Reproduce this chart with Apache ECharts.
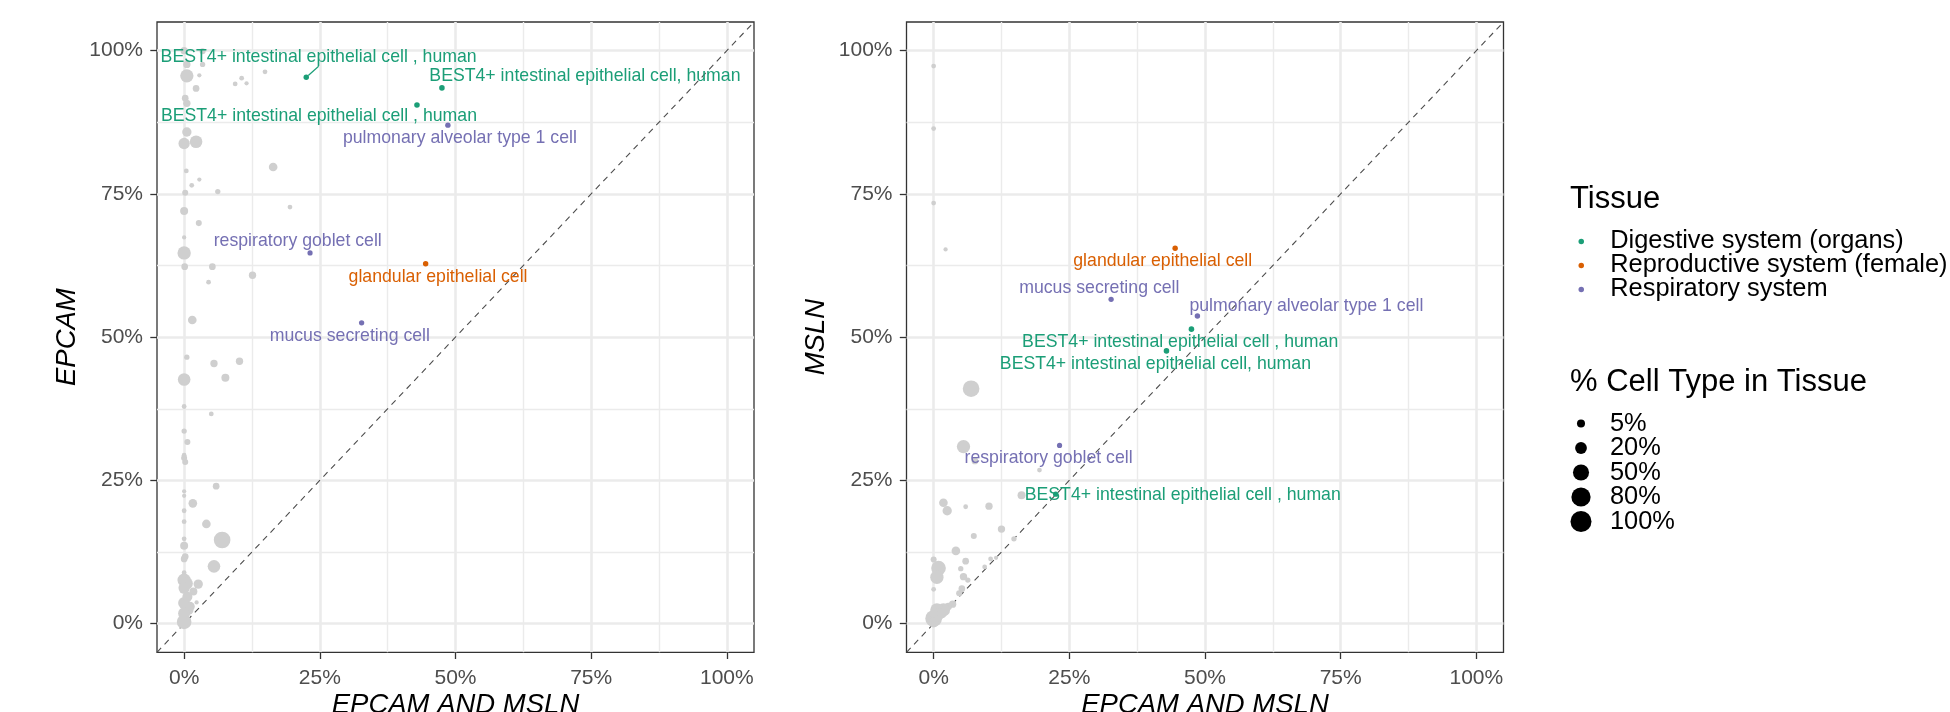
<!DOCTYPE html>
<html>
<head>
<meta charset="utf-8">
<script src="https://cdn.jsdelivr.net/npm/echarts@6/dist/echarts.min.js"></script>
<style>html,body{margin:0;padding:0;background:#fff}#chart{width:1950px;height:712px}</style>
</head>
<body>
<div id="chart"></div>
<script>
// ---------------- DATA ----------------
const tissueNames = ["Digestive system (organs)", "Reproductive system (female)", "Respiratory system"];

// highlighted (coloured) cell types
const cellNames = [
  "BEST4+ intestinal epithelial cell , human",
  "BEST4+ intestinal epithelial cell, human",
  "BEST4+ intestinal epithelial cell , human",
  "pulmonary alveolar type 1 cell",
  "respiratory goblet cell",
  "glandular epithelial cell",
  "mucus secreting cell"
];
const cellTissue = [0, 0, 0, 2, 2, 1, 2];
const cellEpcamAndMsln = [22.5, 47.5, 42.9, 48.6, 23.2, 44.5, 32.7];
const cellEpcam = [95.35, 93.5, 90.5, 87.0, 64.7, 62.8, 52.5];
const cellMsln = [22.6, 51.4, 47.6, 53.7, 31.1, 65.5, 56.6];
const cellTypePct = [0.5, 0.6, 0.6, 0.5, 0.3, 0.5, 0.4];

// other cell types (grey) – EPCAM panel
const epcamGrayX = [0, 3.4, 0.5, 3.4, 0.5, 2.8, 2.2, 0.2, 0.5, 14.9, 10.6, 9.4, 11.5, 0.5, 0, 2.2, 16.4, 0.4, 2.8, 1.4,
  0.2, 6.2, 19.5, 0, 2.7, 0, 0, 0.1, 5.2, 4.5, 12.6, 1.5, 0.5, 5.5, 10.2, 7.6, 0, 0, 5.0, 0,
  0.6, 0, 0, 0.2, 5.9, 0, 0, 1.6, 0, 4.1, 0, 7.0, 0, 0, 0.2, 0, 5.5, 0, 0, 0.5,
  2.6, 1.7, 0, 2.3, 0, 0.8, 0, 0, 0.6, 1.1];
const epcamGrayY = [100.0, 99.9, 97.6, 97.6, 95.6, 95.7, 93.4, 91.7, 90.8, 96.3, 95.2, 94.2, 94.3, 85.8, 83.8, 84.1, 79.7, 79.0, 77.5, 76.5,
  75.2, 75.4, 72.7, 72.0, 69.9, 67.4, 64.7, 62.3, 62.3, 59.6, 60.8, 53.0, 46.5, 45.4, 45.8, 42.9, 42.6, 37.9, 36.6, 33.6,
  31.7, 29.4, 28.9, 28.2, 24.0, 23.1, 22.3, 21.0, 19.7, 17.4, 17.8, 14.6, 14.8, 13.6, 11.7, 11.3, 10.0, 8.9, 7.6, 7.0,
  6.9, 5.6, 6.2, 3.7, 3.6, 2.4, 1.8, 0.3, 4.7, 3.0];
const epcamGraySize = [3.4, 1.1, 3.4, 0.4, 29.4, 0, 2.1, 2.1, 3.4, 0.1, 0.1, 0.1, 0, 9.2, 17.8, 25, 6.9, 0.1, 0, 0.1,
  1.1, 0.4, 0.1, 5, 1.1, 0, 29.4, 2.1, 2.1, 0.1, 3.4, 6.9, 0.4, 3.4, 3.4, 5, 25, 0.1, 0.1, 0.4,
  1.1, 0.1, 1.1, 1.1, 2.1, 0, 0, 6.9, 0.1, 6.9, 0.1, 55, 0.1, 5, 2.1, 2.1, 25, 0.1, 29.4, 21.4,
  9.2, 5, 17.8, 0, 21.4, 11.8, 21.4, 38.7, 11.8, 9.2];

// other cell types (grey) – MSLN panel
const mslnGrayX = [6.9, 5.5, 7.6, 19.5, 16.2, 1.8, 2.5, 5.9, 10.2, 12.5, 7.4, 14.8, 4.1, 5.9, 0, 0.9, 0.6, 5.0, 5.5, 6.3,
  0, 5.2, 4.7, 9.4, 10.5, 11.5, 3.5, 2.7, 1.8, 0.6, 0, 0.6, 0, 1.5, 0, 0, 0, 2.2];
const mslnGrayY = [41.0, 30.9, 28.4, 26.8, 22.4, 21.1, 19.7, 20.4, 20.5, 16.5, 15.3, 14.8, 12.7, 10.9, 11.2, 9.7, 8.1, 9.6, 8.2, 7.6,
  6.0, 6.1, 5.3, 9.9, 11.3, 11.5, 3.4, 3.0, 2.4, 2.4, 0.9, 1.5, 0.2, 1.8, 97.3, 86.4, 73.4, 65.3];
const mslnGraySize = [55, 29.4, 2.1, 0.1, 5, 6.9, 9.2, 0.1, 3.4, 3.4, 1.1, 0.4, 6.9, 2.1, 1.1, 38.7, 29.4, 0.4, 3.4, 0.4,
  0.1, 2.1, 1.1, 0.1, 0.1, 0, 3.4, 3.4, 29.4, 29.4, 55, 29.4, 11.8, 11.8, 0.1, 0.1, 0.1, 0];

const axisTicks = [0, 25, 50, 75, 100];
const axisMinorTicks = [12.5, 37.5, 62.5, 87.5];
const axisLimits = [-5, 105];
const sizeBreaks = [5, 20, 50, 80, 100];
const panelYTitles = ["EPCAM", "MSLN"];
const xTitle = "EPCAM AND MSLN";

// ---------------- STYLE / LAYOUT ----------------
const FONT = "'Liberation Sans', Arial, Helvetica, sans-serif";
const tissueColors = ["#1B9E77", "#D95F02", "#7570B3"];
const grayColor = "#CFCFCF";
const symbolDiameter = p => 4.26 + 16.75 * Math.sqrt(p / 100);
// label offsets (px) relative to point, per panel, per cell
const labelOffsets = [
  [[12.4, -20], [143, -12], [-98, 11], [12, 13.3], [-12.3, -11.4], [12.4, 13.3], [-11.8, 13]],
  [[127, 1], [-36, 35.3], [13.7, -8.7], [109, -10.3], [-11, 13], [-12.4, 12.7], [-11.8, -11]]
];
const leaderLines = [[true, false, false, false, false, false, false], [false, false, false, false, false, false, false]];
const gridPos = [{left: 157, top: 22, width: 597, height: 630.3}, {left: 906.5, top: 22, width: 597, height: 630.3}];

const chart = echarts.init(document.getElementById('chart'), null, {renderer: 'canvas'});

const grids = gridPos.map(g => Object.assign({
  show: true, borderColor: '#333333', borderWidth: 1.3, backgroundColor: 'rgba(0,0,0,0)',
  containLabel: false, outerBoundsMode: 'none'
}, g));

function mainAxis(gi, isX) {
  return {
    type: 'value', gridIndex: gi, min: axisLimits[0], max: axisLimits[1],
    position: isX ? 'bottom' : 'left',
    name: isX ? xTitle : panelYTitles[gi], nameLocation: 'middle',
    nameGap: isX ? 40 : 76.5, nameMoveOverlap: false,
    nameTextStyle: {fontFamily: FONT, fontStyle: 'italic', fontSize: 27.5, color: '#000'},
    axisLine: {show: false, onZero: false},
    axisTick: {show: true, inside: false, length: 6.7, customValues: axisTicks, lineStyle: {color: '#333333', width: 1.3}},
    axisLabel: {show: true, customValues: axisTicks, margin: isX ? 15 : 14, formatter: v => v + '%',
      fontFamily: FONT, fontSize: 21, color: '#4D4D4D'},
    splitLine: {show: true, lineStyle: {color: '#EBEBEB', width: 2.6}},
    minorTick: {show: false}, minorSplitLine: {show: false}
  };
}
function minorAxis(gi, isX) {
  return {
    type: 'value', gridIndex: gi, min: axisLimits[0], max: axisLimits[1],
    position: isX ? 'bottom' : 'left',
    axisLine: {show: false, onZero: false},
    axisTick: {show: false, customValues: axisMinorTicks},
    axisLabel: {show: false, customValues: axisMinorTicks},
    splitLine: {show: true, lineStyle: {color: '#EBEBEB', width: 1.4}}
  };
}

const xAxes = [mainAxis(0, true), mainAxis(1, true), minorAxis(0, true), minorAxis(1, true)];
const yAxes = [mainAxis(0, false), mainAxis(1, false), minorAxis(0, false), minorAxis(1, false)];

const series = [];
// reference diagonal y = x
[0, 1].forEach(p => {
  series.push({
    type: 'line', xAxisIndex: p, yAxisIndex: p, silent: true, symbol: 'none', z: 1,
    data: [[axisLimits[0], axisLimits[0]], [axisLimits[1], axisLimits[1]]],
    lineStyle: {color: '#4D4D4D', width: 1.1, type: [6, 5]}, clip: true
  });
});
// grey points
const grayData = [
  epcamGrayX.map((x, i) => [x, epcamGrayY[i], epcamGraySize[i]]),
  mslnGrayX.map((x, i) => [x, mslnGrayY[i], mslnGraySize[i]])
];
[0, 1].forEach(p => {
  series.push({
    type: 'scatter', xAxisIndex: p, yAxisIndex: p, z: 2, silent: true,
    symbolSize: v => symbolDiameter(v[2]),
    itemStyle: {color: grayColor, opacity: 1},
    data: grayData[p]
  });
});
// coloured points with labels
[0, 1].forEach(p => {
  tissueNames.forEach((tn, t) => {
    const idx = cellTissue.map((v, i) => v === t ? i : -1).filter(i => i >= 0);
    series.push({
      name: tn, type: 'scatter', xAxisIndex: p, yAxisIndex: p, z: 4,
      symbolSize: v => symbolDiameter(v[2]),
      itemStyle: {color: tissueColors[t], opacity: 1},
      emphasis: {disabled: true},
      data: idx.map(i => ({
        value: [cellEpcamAndMsln[i], p === 0 ? cellEpcam[i] : cellMsln[i], cellTypePct[i]],
        name: cellNames[i],
        labelLine: {show: leaderLines[p][i], lineStyle: {color: tissueColors[t], width: 1.2}}
      })),
      label: {show: true, position: 'inside', formatter: q => q.name, color: tissueColors[t],
        fontFamily: FONT, fontSize: 17.7, textBorderWidth: 0},
      labelLine: {show: false},
      labelLayout: q => {
        const o = labelOffsets[p][idx[q.dataIndex]];
        return {dx: o[0], dy: o[1]};
      }
    });
  });
});

// legend graphics (titles + size legend)
const graphics = [
  {type: 'text', left: 1570, top: 199 - 15.5, style: {text: 'Tissue', font: `31px ${FONT}`, fill: '#000', textVerticalAlign: 'top'}},
  {type: 'text', left: 1570, top: 382.3 - 15.5, style: {text: '% Cell Type in Tissue', font: `31px ${FONT}`, fill: '#000', textVerticalAlign: 'top'}}
];
sizeBreaks.forEach((b, i) => {
  const cy = 423.5 + i * 24.5;
  graphics.push({type: 'circle', shape: {cx: 1581, cy: cy, r: symbolDiameter(b) / 2}, style: {fill: '#000'}});
  graphics.push({type: 'text', x: 1610, y: cy, style: {text: b + '%', font: `25.4px ${FONT}`, fill: '#000', textVerticalAlign: 'middle', textAlign: 'left'}});
});

chart.setOption({
  animation: false,
  backgroundColor: '#ffffff',
  grid: grids,
  xAxis: xAxes,
  yAxis: yAxes,
  legend: {
    show: true, orient: 'vertical', left: 1573.5, top: 223.9,
    icon: 'circle', itemWidth: 48, itemHeight: 5.5, itemGap: -1,
    selectedMode: false,
    textStyle: {fontFamily: FONT, fontSize: 25.4, color: '#000', lineHeight: 24.4},
    data: tissueNames
  },
  series: series,
  graphic: graphics
});
</script>
</body>
</html>
